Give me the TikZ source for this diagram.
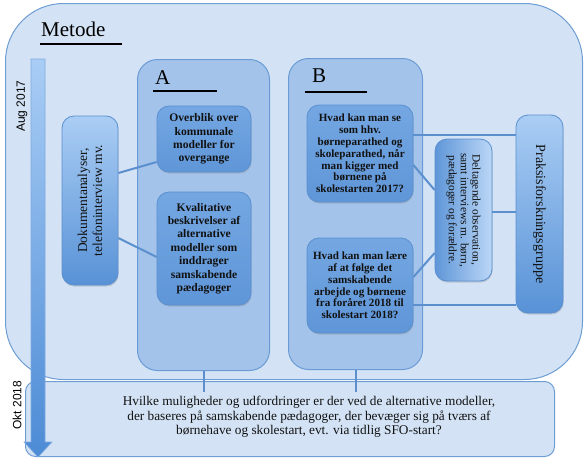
\documentclass[tikz,border=0pt]{standalone}
\usepackage{fontspec}
\setmainfont{Liberation Serif}
\newfontfamily\labelsans{Liberation Sans}
\usetikzlibrary{shadows}
\definecolor{outerfill}{HTML}{D3E3F5}
\definecolor{outerdraw}{HTML}{6E9DD3}
\definecolor{colfill}{HTML}{A3C3EA}
\definecolor{coldraw}{HTML}{6A9BD5}
\definecolor{innertop}{HTML}{74A7E2}
\definecolor{innerbot}{HTML}{5F96D8}
\definecolor{innerdraw}{HTML}{5A8FD0}
\definecolor{lighttop}{HTML}{AACDF4}
\definecolor{darkbot}{HTML}{5892D6}
\definecolor{connc}{HTML}{5B8FCD}
\definecolor{arrowtop}{HTML}{A9CDF5}
\definecolor{arrowbot}{HTML}{4C8BD5}
\definecolor{arrowdraw}{HTML}{7FAADF}
\definecolor{txt}{HTML}{111111}
\begin{document}
\begin{tikzpicture}[x=1pt,y=-1pt,
  outerbox/.style={draw=outerdraw, line width=1pt, fill=outerfill, inner sep=0pt, anchor=north west},
  colbox/.style={draw=coldraw, line width=1pt, fill=colfill, rounded corners=20pt, inner sep=0pt, anchor=north west},
  shadowed/.style={drop shadow={shadow xshift=0.6pt, shadow yshift=-1.6pt, opacity=0.3}},
  innerbox/.style={draw=innerdraw, line width=0.8pt, top color=innertop, bottom color=innerbot, rounded corners=12pt, inner sep=0pt, shadowed},
  boxtextA/.style={text=txt, align=center, font=\bfseries\fontsize{11.6}{13.4}\selectfont},
  boxtextB/.style={text=txt, align=center, font=\bfseries\fontsize{11.1}{11.8}\selectfont},
  conn/.style={draw=connc, line width=2pt},
  datelabel/.style={rotate=90, text=black, font=\labelsans\fontsize{12}{14}\selectfont},
  heading/.style={anchor=base west, inner sep=0pt, text=black, font=\fontsize{21}{24}\selectfont},
  headline/.style={draw=black, line width=1.2pt}
]
\useasboundingbox (0,0) rectangle (588,463);

% outer frame and bottom box
\node[outerbox, rounded corners=58pt, minimum width=577, minimum height=376] (metode) at (5,3) {};
\node[outerbox, rounded corners=10pt, minimum width=529, minimum height=75] (bottom) at (25,381) {};

% columns
\node[colbox, minimum width=132, minimum height=311] (colA) at (137,59) {};
\node[colbox, minimum width=134, minimum height=311] (colB) at (288,58) {};

% headings
\node[heading] (title) at (41,36) {Metode};
\draw[headline] (40,44) -- (122,44);
\node[heading] (labA) at (155,84) {A};
\draw[headline] (153,91) -- (217,91);
\node[heading] (labB) at (312,82.5) {B};
\draw[headline] (305,92) -- (367,92);

% boxes
\node[innerbox, top color=lighttop, bottom color=darkbot, minimum width=56, minimum height=169] (dok) at (90,200.5) {};
\node[rotate=90, text=txt, align=center, font=\fontsize{13.5}{15}\selectfont] (doktext) at (dok.center) {Dokumentanalyser,\\telefoninterview mv.};

\node[innerbox, minimum width=94, minimum height=66, boxtextA] (ov) at (204,139) {Overblik over\\kommunale\\modeller for\\overgange};
\node[innerbox, minimum width=94, minimum height=113, boxtextA] (kv) at (204,248.5) {Kvalitative\\beskrivelser af\\alternative\\modeller som\\inddrager\\samskabende\\pædagoger};

\node[innerbox, minimum width=106, minimum height=97, boxtextB] (b1) at (360,153.5) {Hvad kan man se\\som hhv.\\børneparathed og\\skoleparathed, når\\man kigger med\\børnene på\\skolestarten 2017?};
\node[innerbox, minimum width=106, minimum height=95, boxtextB] (b2) at (360,285.5) {Hvad kan man lære\\af at følge det\\samskabende\\arbejde og børnene\\fra foråret 2018 til\\skolestart 2018?};

\node[innerbox, left color=innerbot, right color=lighttop!80!white, minimum width=57, minimum height=142] (del) at (463.5,210) {};
\node[rotate=-90, text=txt, align=center, font=\fontsize{11.4}{11.8}\selectfont] (deltext) at (del.center) {Deltagende observation,\\samt interviews m. børn,\\pædagoger og forældre.};

\node[innerbox, top color=lighttop, bottom color=darkbot, minimum width=47, minimum height=198] (prak) at (539.5,214) {};
\node[rotate=-90, text=txt, font=\fontsize{14}{16}\selectfont] (praktext) at (prak.center) {Praksisforskningsgruppe};

% bottom text
\node[text=txt, align=center, inner sep=4pt, font=\fontsize{13.3}{14.6}\selectfont] (btext) at (309,417) {Hvilke muligheder og udfordringer er der ved de alternative modeller,\\der baseres på samskabende pædagoger, der bevæger sig på tværs af\\børnehave og skolestart, evt. via tidlig SFO-start?};

% connectors
\draw[conn] (dok.east |- 0,173) -- (ov.west |- 0,162);
\draw[conn] (dok.east |- 0,238) -- (kv.west |- 0,257);
\draw[conn] (b1.east |- 0,135) -- (prak.west |- 0,135);
\draw[conn] (b2.east |- 0,305) -- (prak.west |- 0,305);
\draw[conn] (b1.east |- 0,165) -- (del.west |- 0,190);
\draw[conn] (b2.east |- 0,277) -- (del.west |- 0,253);
\draw[conn] (del.east |- 0,212) -- (prak.west |- 0,212);
\draw[conn] (colA.south) -- (colA.south |- btext.north);
\draw[conn] (colB.south) -- (colB.south |- btext.north);

% timeline arrow
\path[draw=arrowdraw, line width=0.6pt, top color=arrowtop, bottom color=arrowbot]
  (31,59) -- (45,59) -- (45,442) -- (52,442) -- (38,457) -- (24,442) -- (31,442) -- cycle;
\node[datelabel] (aug) at (22,106) {Aug 2017};
\node[datelabel] (okt) at (17,405) {Okt 2018};
\end{tikzpicture}
\end{document}
